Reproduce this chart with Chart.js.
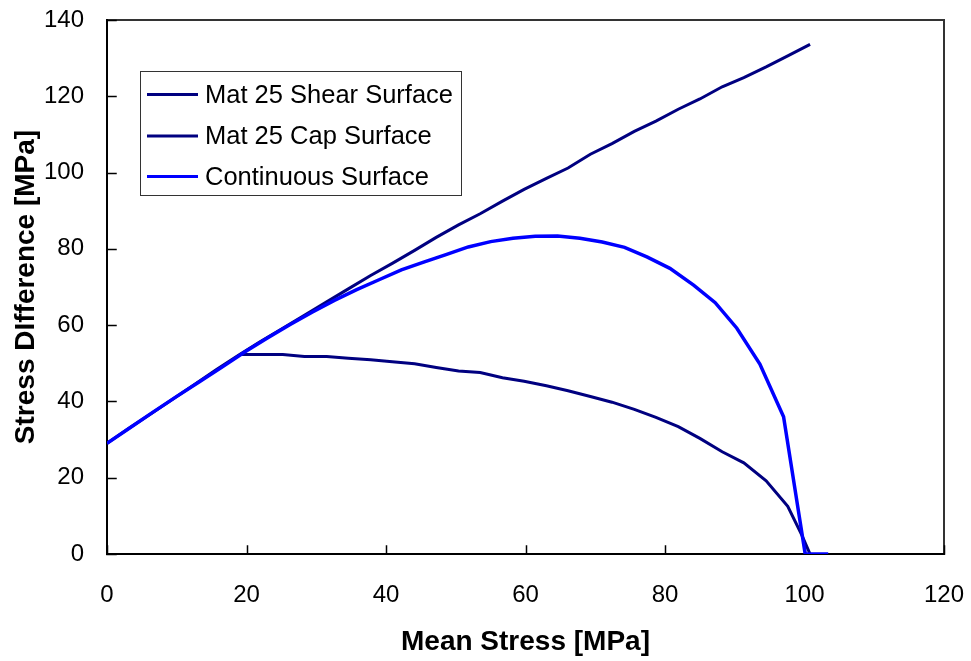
<!DOCTYPE html>
<html>
<head>
<meta charset="utf-8">
<title>Mat 25 Surfaces</title>
<script src="https://cdn.jsdelivr.net/npm/chart.js@4.4.0/dist/chart.umd.min.js"></script>
<style>
  html, body { margin: 0; padding: 0; background: #ffffff; overflow: hidden; }
  #wrap { width: 971px; height: 661px; position: relative; }
  #chart { display: block; }
</style>
</head>
<body>
<div id="wrap"><canvas id="chart" width="971" height="661"></canvas></div>
<script>
// Mean stress / stress difference pairs for each surface [MPa]
const shearX = [0, 3.1, 6.3, 9.4, 12.6, 15.7, 18.9, 22, 25.2, 28.3, 31.5, 34.6, 37.8, 40.9, 44.1, 47.2, 50.4, 53.5, 56.7, 59.8, 63, 66.1, 69.3, 72.4, 75.6, 78.7, 81.9, 85, 88.2, 91.3, 94.5, 97.6, 100.8];
const shearY = [29.0, 32.9, 36.8, 40.6, 44.5, 48.4, 52.2, 55.7, 59.2, 62.6, 66.1, 69.5, 73.0, 76.2, 79.6, 83.0, 86.3, 89.2, 92.5, 95.6, 98.5, 101.2, 104.8, 107.6, 110.8, 113.5, 116.6, 119.3, 122.5, 124.9, 127.7, 130.6, 133.6];

const capX = [19.0, 22, 25.2, 28.3, 31.5, 34.6, 37.8, 40.9, 44.1, 47.2, 50.4, 53.5, 56.7, 59.8, 63, 66.1, 69.3, 72.4, 75.6, 78.7, 81.9, 85, 88.2, 91.3, 94.5, 97.6, 99.6, 100.8];
const capY = [52.3, 52.3, 52.3, 51.8, 51.8, 51.3, 50.9, 50.4, 49.9, 48.9, 48.0, 47.6, 46.2, 45.3, 44.1, 42.8, 41.3, 39.8, 37.9, 35.8, 33.4, 30.3, 26.8, 23.9, 19.2, 12.5, 5.0, 0];

const contX = [0, 3.3, 6.6, 9.9, 13.2, 16.5, 19.8, 23.0, 26.2, 29.4, 32.6, 35.8, 39.0, 42.2, 45.4, 48.6, 51.8, 55.0, 58.2, 61.4, 64.6, 67.8, 71.0, 74.2, 77.4, 80.7, 84.1, 87.2, 90.3, 93.6, 97.0, 100.1, 103.4];
const contY = [29.0, 33.1, 37.2, 41.2, 45.1, 49.0, 53.0, 56.6, 60.1, 63.4, 66.5, 69.3, 71.9, 74.5, 76.5, 78.5, 80.5, 81.9, 82.8, 83.3, 83.4, 82.8, 81.8, 80.4, 77.9, 74.9, 70.5, 65.9, 59.2, 49.8, 36.0, 0, 0];

const seriesNames = ['Mat 25 Shear Surface', 'Mat 25 Cap Surface', 'Continuous Surface'];
const xTicks = [0, 20, 40, 60, 80, 100, 120];
const yTicks = [0, 20, 40, 60, 80, 100, 120, 140];
const xTitle = 'Mean Stress [MPa]';
const yTitle = 'Stress DIfference [MPa]';

const FONT = '"Liberation Sans", Arial, sans-serif';

function pairs(xs, ys) {
  return xs.map((x, i) => ({ x: x, y: ys[i] }));
}

// Axis frame with inward tick marks
const framePlugin = {
  id: 'frame',
  beforeDatasetsDraw(chart) {
    const { ctx, chartArea: a, scales } = chart;
    ctx.save();
    ctx.lineCap = 'square';
    ctx.strokeStyle = '#333333';
    ctx.lineWidth = 2;
    ctx.beginPath();
    ctx.moveTo(a.left, a.top);
    ctx.lineTo(a.right, a.top);
    ctx.lineTo(a.right, a.bottom);
    ctx.stroke();
    ctx.strokeStyle = '#000000';
    ctx.beginPath();
    ctx.moveTo(a.left, a.top);
    ctx.lineTo(a.left, a.bottom);
    ctx.lineTo(a.right, a.bottom);
    ctx.stroke();
    ctx.lineWidth = 1.5;
    ctx.beginPath();
    xTicks.forEach(v => {
      const px = Math.round(scales.x.getPixelForValue(v)) + 0.5;
      ctx.moveTo(px, a.bottom);
      ctx.lineTo(px, a.bottom - 8);
    });
    yTicks.forEach(v => {
      const py = Math.round(scales.y.getPixelForValue(v)) + 0.5;
      ctx.moveTo(a.left, py);
      ctx.lineTo(a.left + 9, py);
    });
    ctx.stroke();
    ctx.restore();
  }
};

// Boxed legend inside the plot area
const boxLegendPlugin = {
  id: 'boxLegend',
  afterDraw(chart) {
    const { ctx } = chart;
    const box = { x: 140.5, y: 71.5, w: 321, h: 124 };
    ctx.save();
    ctx.fillStyle = '#ffffff';
    ctx.fillRect(box.x, box.y, box.w, box.h);
    ctx.strokeStyle = '#333333';
    ctx.lineWidth = 1;
    ctx.strokeRect(box.x, box.y, box.w, box.h);
    ctx.font = '25.5px ' + FONT;
    ctx.textBaseline = 'middle';
    ctx.textAlign = 'left';
    const rows = [94.5, 136, 176.5];
    chart.data.datasets.forEach((ds, i) => {
      const y = rows[i];
      ctx.strokeStyle = ds.borderColor;
      ctx.lineWidth = 3;
      ctx.beginPath();
      ctx.moveTo(147, y);
      ctx.lineTo(198, y);
      ctx.stroke();
      ctx.fillStyle = '#000000';
      ctx.fillText(ds.label, 205, y + 1);
    });
    ctx.restore();
  }
};

new Chart(document.getElementById('chart'), {
  type: 'scatter',
  data: {
    datasets: [
      { label: seriesNames[0], data: pairs(shearX, shearY), borderColor: '#000080', borderWidth: 3, order: 2 },
      { label: seriesNames[1], data: pairs(capX, capY), borderColor: '#000080', borderWidth: 3, order: 1 },
      { label: seriesNames[2], data: pairs(contX, contY), borderColor: '#0000FF', borderWidth: 3.5, order: 0 }
    ].map(d => Object.assign(d, {
      showLine: true,
      pointRadius: 0,
      pointHoverRadius: 0,
      tension: 0,
      fill: false,
      backgroundColor: d.borderColor
    }))
  },
  options: {
    responsive: false,
    animation: false,
    devicePixelRatio: 1,
    layout: { padding: { top: 20, right: 27, left: 0, bottom: 0 } },
    plugins: {
      legend: { display: false },
      tooltip: { enabled: false }
    },
    scales: {
      x: {
        type: 'linear',
        min: 0,
        max: 120,
        afterBuildTicks(scale) { scale.ticks = xTicks.map(v => ({ value: v })); },
        afterFit(scale) {
          scale.height = 107;
          scale.paddingLeft = 0;
          scale.paddingRight = 0;
        },
        grid: { display: false, drawTicks: false },
        border: { display: false },
        ticks: { color: '#000000', font: { family: FONT, size: 24 }, padding: 27, maxRotation: 0 },
        title: {
          display: true,
          text: xTitle,
          color: '#000000',
          font: { family: FONT, size: 28, weight: 'bold' },
          padding: { top: 0, bottom: 2 }
        }
      },
      y: {
        type: 'linear',
        min: 0,
        max: 140,
        afterBuildTicks(scale) { scale.ticks = yTicks.map(v => ({ value: v })); },
        afterFit(scale) {
          scale.width = 107;
          scale.paddingTop = 0;
          scale.paddingBottom = 0;
        },
        grid: { display: false, drawTicks: false },
        border: { display: false },
        ticks: { color: '#000000', font: { family: FONT, size: 24 }, padding: 23 },
        title: {
          display: true,
          text: yTitle,
          color: '#000000',
          font: { family: FONT, size: 28, weight: 'bold' },
          padding: { top: 9, bottom: 0 }
        }
      }
    }
  },
  plugins: [framePlugin, boxLegendPlugin]
});
</script>
</body>
</html>
